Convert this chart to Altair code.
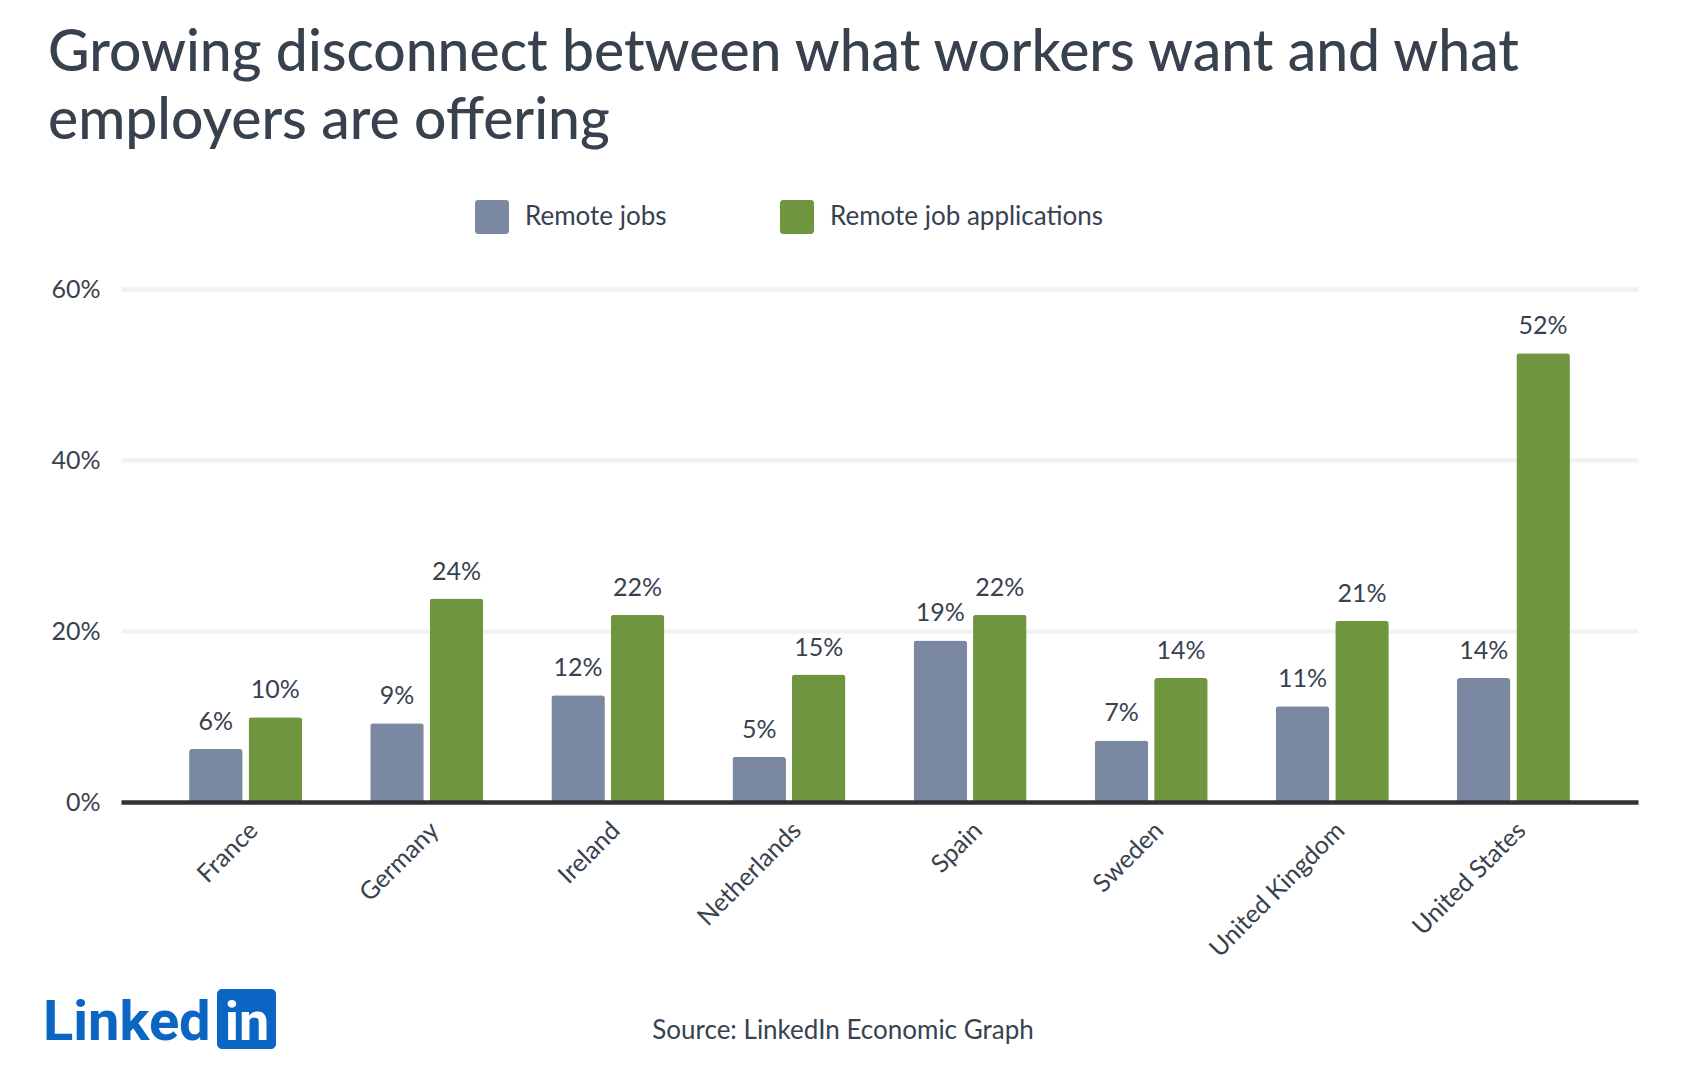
import altair as alt
import pandas as pd

countries = ["France", "Germany", "Ireland", "Netherlands", "Spain", "Sweden",
             "United Kingdom", "United States"]
series_names = ["Remote jobs", "Remote job applications"]
remote_jobs = [6.2, 9.2, 12.5, 5.3, 18.9, 7.2, 11.2, 14.5]
remote_apps = [9.9, 23.8, 21.9, 14.9, 21.9, 14.5, 21.2, 52.5]
remote_jobs_labels = ["6%", "9%", "12%", "5%", "19%", "7%", "11%", "14%"]
remote_apps_labels = ["10%", "24%", "22%", "15%", "22%", "14%", "21%", "52%"]
y_ticks = [0, 20, 40, 60]
title_lines = ["Growing disconnect between what workers want and what",
               "employers are offering"]
source_text = "Source: LinkedIn Economic Graph"
logo_word = "Linked"
logo_box_word = "in"

colors = ["#7a88a1", "#6f963f"]
text_color = "#38424f"
font = "Lato"

rows = []
for i, c in enumerate(countries):
    rows.append({"country": c, "series": series_names[0], "value": remote_jobs[i],
                 "label": remote_jobs_labels[i]})
    rows.append({"country": c, "series": series_names[1], "value": remote_apps[i],
                 "label": remote_apps_labels[i]})
df = pd.DataFrame(rows)

rounded_square = ("M-0.8,-1 L0.8,-1 Q1,-1 1,-0.8 L1,0.8 Q1,1 0.8,1 L-0.8,1 "
                  "Q-1,1 -1,0.8 L-1,-0.8 Q-1,-1 -0.8,-1 Z")

base = alt.Chart(df).encode(
    x=alt.X("country:N", sort=countries,
            scale=alt.Scale(paddingInner=0.376, paddingOuter=0.376),
            axis=alt.Axis(title=None, labelAngle=-45, labelAlign="right",
                          labelBaseline="middle", labelFontSize=25, labelFont=font,
                          labelColor=text_color, ticks=False, domainColor="#2f3338",
                          domainWidth=4.5, labelPadding=24, labelOffset=8,
                          labelLimit=400, zindex=1)),
    xOffset=alt.XOffset("series:N", sort=series_names,
                        scale=alt.Scale(paddingInner=0.1, paddingOuter=0)),
    y=alt.Y("value:Q", scale=alt.Scale(domain=[0, 60], nice=False),
            axis=alt.Axis(values=y_ticks, labelExpr="datum.value + '%'", title=None,
                          domain=False, ticks=False, grid=True, gridColor="#f2f2f2",
                          gridWidth=4.5, labelFontSize=25, labelFont=font,
                          labelColor=text_color, labelPadding=21, zindex=0)),
)

bars = base.mark_bar(cornerRadiusTopLeft=3, cornerRadiusTopRight=3).encode(
    color=alt.Color("series:N", sort=series_names,
                    scale=alt.Scale(domain=series_names, range=colors),
                    legend=alt.Legend(orient="none", legendX=354, legendY=-89,
                                      direction="horizontal", title=None,
                                      symbolType=rounded_square, symbolSize=1156,
                                      symbolStrokeWidth=0, symbolOpacity=1,
                                      labelFontSize=26, labelFont=font,
                                      labelColor=text_color, labelOffset=16,
                                      labelLimit=500, columnPadding=113, padding=0))
)

labels = base.mark_text(baseline="alphabetic", dy=-19, fontSize=25, font=font,
                        color=text_color).encode(text="label:N")

logo_df = pd.DataFrame({"word": [logo_word], "box": [logo_box_word],
                        "source": [source_text]})
logo_base = alt.Chart(logo_df)
logo_text = logo_base.mark_text(align="left", baseline="alphabetic", fontSize=56,
                                font="Roboto", fontWeight="bold",
                                color="#0a66c2").encode(
    x=alt.value(-78), y=alt.value(751), text="word:N")
logo_rect = logo_base.mark_rect(cornerRadius=5, color="#0a66c2").encode(
    x=alt.value(96), x2=alt.value(155), y=alt.value(700), y2=alt.value(760))
logo_in = logo_base.mark_text(align="center", baseline="alphabetic", fontSize=54,
                              font="Roboto", fontWeight="bold",
                              color="white").encode(
    x=alt.value(126), y=alt.value(751), text="box:N")
source = logo_base.mark_text(align="center", baseline="alphabetic", fontSize=26,
                             font=font, color=text_color).encode(
    x=alt.value(722), y=alt.value(750), text="source:N")

chart = alt.layer(bars, labels, logo_text, logo_rect, logo_in, source).properties(
    width=1517, height=513,
    padding={"left": 113, "top": 281, "right": 36, "bottom": 270},
    autosize=alt.AutoSizeParams(type="none"),
    background="white",
    title=alt.TitleParams(text=title_lines, anchor="start", frame="group", dx=-73,
                          fontSize=57, lineHeight=68, font=font, fontWeight=500,
                          color="#38424f", offset=49),
).configure_view(stroke=None)

chart.save("out.html", embed_options={"renderer": "svg", "actions": False})
